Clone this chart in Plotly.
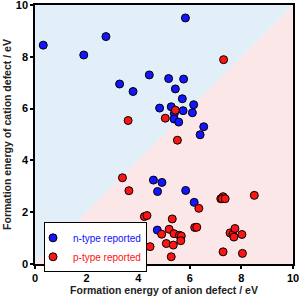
import plotly.graph_objects as go

n_x = [0.32, 1.89, 2.75, 5.83, 3.28, 3.80, 4.43, 5.18, 5.76, 5.44, 5.71, 4.83, 5.28, 6.15,
       5.40, 5.74, 6.10, 5.39, 5.57, 6.54, 6.40, 4.59, 4.92, 4.75, 5.84, 6.17, 4.74]
n_y = [8.45, 8.07, 8.78, 9.50, 6.95, 6.66, 7.30, 7.16, 7.14, 6.76, 6.38, 6.02, 6.07, 6.15,
       5.81, 5.92, 5.84, 5.60, 5.48, 5.30, 4.99, 3.24, 3.15, 2.80, 2.84, 2.38, 1.31]

p_x = [7.31, 3.61, 5.44, 5.05, 5.52, 3.39, 3.64, 4.24, 4.34, 4.46, 4.91, 5.09, 5.20, 5.32,
       5.39, 5.36, 5.28, 5.60, 5.67, 5.65, 6.19, 6.27, 6.35, 7.20, 7.29, 7.25, 7.37, 8.50,
       7.56, 7.67, 7.75, 7.71, 8.02, 7.29, 8.04]
p_y = [7.89, 5.54, 5.94, 5.63, 4.78, 3.33, 2.83, 1.83, 1.87, 0.67, 1.15, 0.79, 1.34, 1.74,
       1.17, 0.73, 0.28, 1.11, 1.08, 0.90, 1.41, 1.42, 2.15, 2.52, 2.60, 2.52, 2.52, 2.65,
       1.20, 1.14, 1.37, 1.04, 1.14, 0.47, 0.41]

tick_vals = [0, 2, 4, 6, 8, 10]

fig = go.Figure()
fig.add_trace(go.Scatter(x=n_x, y=n_y, mode="markers",
                         name="<span style='color:#1010ff'>n-type reported</span>",
                         marker=dict(color="#1414ff", size=8, line=dict(color="black", width=1))))
fig.add_trace(go.Scatter(x=p_x, y=p_y, mode="markers",
                         name="<span style='color:#ff1010'>p-type reported</span>",
                         marker=dict(color="#ff1414", size=8, line=dict(color="black", width=1))))

fig.add_shape(type="path", path="M 0 0 L 0 10 L 10 10 Z", xref="x", yref="y",
              fillcolor="#e3eff8", line=dict(width=0), layer="below")
fig.add_shape(type="path", path="M 0 0 L 10 0 L 10 10 Z", xref="x", yref="y",
              fillcolor="#fbe6e8", line=dict(width=0), layer="below")

axis_common = dict(range=[0, 10], tickvals=tick_vals, ticks="outside", ticklen=3, tickwidth=1.5,
                   tickcolor="black", showline=True, linecolor="black", linewidth=1.5, mirror=True,
                   showgrid=False, zeroline=False, ticklabeloverflow="allow",
                   tickfont=dict(family="Arial, Liberation Sans", size=11, color="black", weight="bold"))

title_font = dict(family="Arial, Liberation Sans", size=10.5, color="#222", weight="bold")

fig.update_xaxes(title=dict(text="Formation energy of anion defect / eV", standoff=1, font=title_font),
                 automargin="bottom", **axis_common)
fig.update_yaxes(title=dict(text="Formation energy of cation defect / eV", standoff=2, font=title_font),
                 automargin="left", **axis_common)

fig.update_layout(width=299, height=297, margin=dict(l=35, r=6, t=5, b=31),
                  paper_bgcolor="white", plot_bgcolor="white",
                  legend=dict(x=0.035, y=0.161, xanchor="left", yanchor="top",
                              bgcolor="white", bordercolor="black", borderwidth=1,
                              font=dict(family="Arial, Liberation Sans", size=10),
                              itemwidth=30, tracegroupgap=0, indentation=-12))
fig.write_html("out.html", config={"displayModeBar": False},
               post_script="document.body.style.margin='0';document.body.style.padding='0';")
